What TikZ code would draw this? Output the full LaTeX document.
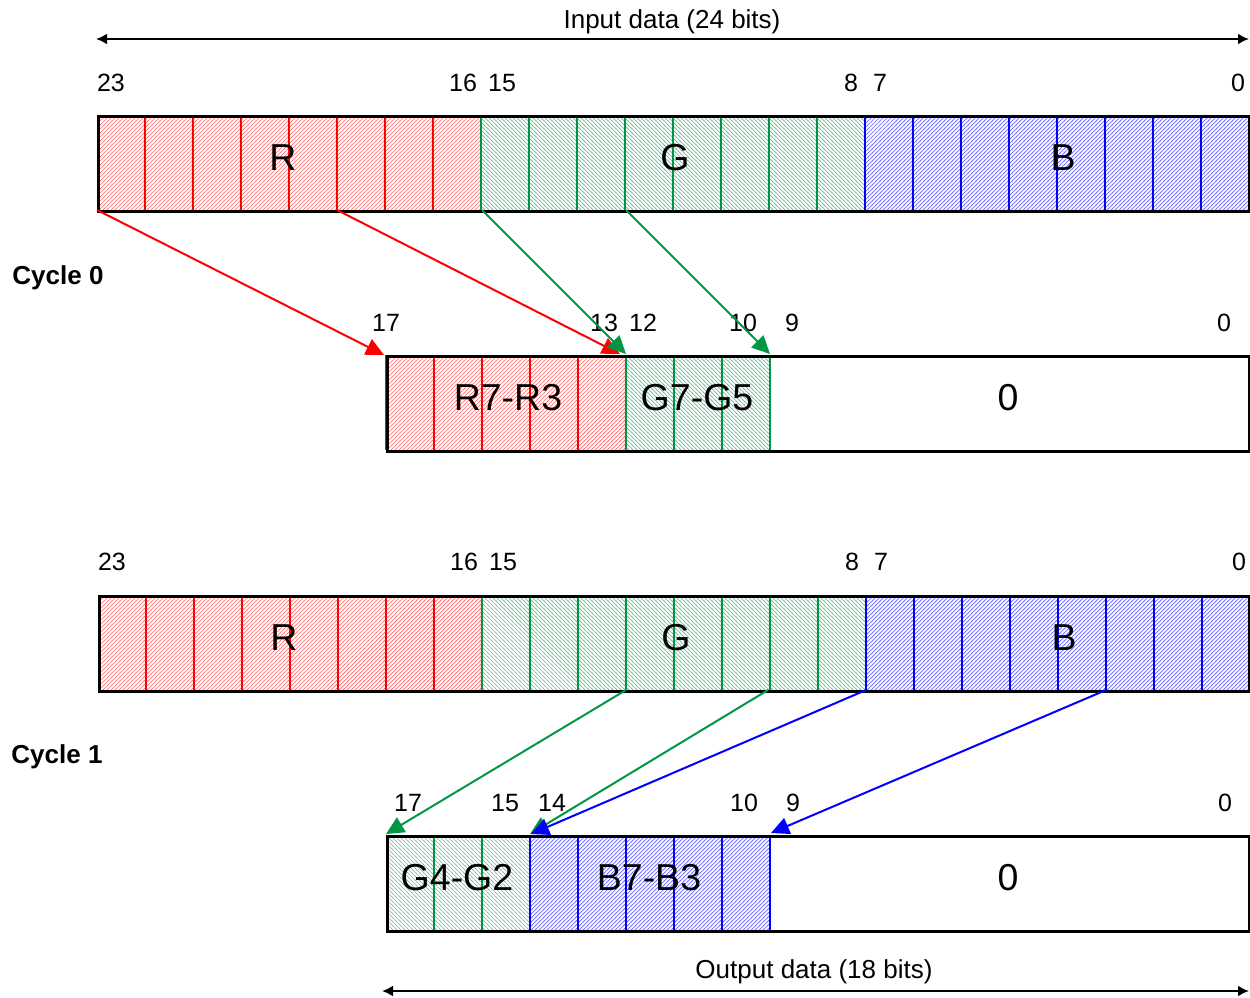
\documentclass[tikz,border=0pt]{standalone}
\usepackage{fontspec}
\setmainfont{Liberation Sans}
\usetikzlibrary{patterns,arrows.meta}
\definecolor{gr}{RGB}{0,150,70}
\definecolor{rd}{RGB}{255,0,0}
\definecolor{bl}{RGB}{0,0,255}
\pgfdeclarepatternformonly{hatchne}{\pgfqpoint{-1pt}{-1pt}}{\pgfqpoint{5pt}{5pt}}{\pgfqpoint{4pt}{4pt}}{%
  \pgfsetlinewidth{0.7pt}%
  \pgfpathmoveto{\pgfqpoint{-1pt}{-1pt}}%
  \pgfpathlineto{\pgfqpoint{5pt}{5pt}}%
  \pgfusepath{stroke}}
\pgfdeclarepatternformonly{hatchnw}{\pgfqpoint{-1pt}{-1pt}}{\pgfqpoint{5pt}{5pt}}{\pgfqpoint{4pt}{4pt}}{%
  \pgfsetlinewidth{0.7pt}%
  \pgfpathmoveto{\pgfqpoint{-1pt}{5pt}}%
  \pgfpathlineto{\pgfqpoint{5pt}{-1pt}}%
  \pgfusepath{stroke}}
\tikzset{
  hatchR/.style={pattern=hatchne,pattern color=rd!55},
  hatchG/.style={pattern=hatchnw,pattern color=gr!55},
  hatchB/.style={pattern=hatchne,pattern color=bl!55},
  reg/.style={draw=black,line width=2.6pt,minimum height=95pt,inner sep=0pt,anchor=north west},
  divR/.style={rd,line width=1.6pt},
  divG/.style={gr,line width=1.6pt},
  divB/.style={bl,line width=1.6pt},
  num/.style={font=\fontsize{25}{29}\selectfont,inner sep=0pt},
  big/.style={font=\fontsize{37.5}{42}\selectfont,inner sep=0pt},
  cyc/.style={font=\fontsize{26}{30}\selectfont\bfseries,inner sep=0pt},
  ttl/.style={font=\fontsize{26}{30}\selectfont,inner sep=0pt},
  mapR/.style={rd,line width=2pt,-{Triangle[length=18pt,width=17pt]}},
  mapG/.style={gr,line width=2pt,-{Triangle[length=18pt,width=17pt]}},
  mapB/.style={bl,line width=2pt,-{Triangle[length=18pt,width=17pt]}},
  span/.style={black,line width=2.8pt,{Latex[length=11pt,width=11pt]}-{Latex[length=11pt,width=11pt]}}
}
\begin{document}
\begin{tikzpicture}[x=1pt,y=-1pt]
\useasboundingbox (0,0) rectangle (1250,997);
% ---------- Input data span ----------
\node[ttl] (intitle) at (672,22) {Input data (24 bits)};
\coordinate (inL) at (96,39);
\coordinate (inR) at (1249,39);
\draw[span] (inL) -- (inR);

% ---------- Cycle 0 input register ----------
\fill[hatchR] (97,115) rectangle (481,210);
\fill[hatchG] (481,115) rectangle (865,210);
\fill[hatchB] (865,115) rectangle (1248,210);
\foreach \i in {1,...,7} \draw[divR] (97+48*\i,115) -- ++(0,95);
\foreach \i in {8,...,15} \draw[divG] (97+48*\i,115) -- ++(0,95);
\foreach \i in {16,...,23} \draw[divB] (97+48*\i,115) -- ++(0,95);
\node[reg,minimum width=1151pt] (in0) at (97,115) {};
\node[big] (lR0) at (283,158) {R};
\node[big] (lG0) at (675,158) {G};
\node[big] (lB0) at (1063,158) {B};
\node[num] (n0a) at (111,83) {23};
\node[num] (n0b) at (463,83) {16};
\node[num] (n0c) at (502,83) {15};
\node[num] (n0d) at (851,83) {8};
\node[num] (n0e) at (880,83) {7};
\node[num] (n0f) at (1238,83) {0};

\node[cyc] (cyc0) at (58,278) {Cycle 0};

% ---------- Cycle 0 output register ----------
\fill[hatchR] (386,355) rectangle (626,450);
\fill[hatchG] (626,355) rectangle (770,450);
\foreach \i in {1,...,4} \draw[divR] (386+48*\i,355) -- ++(0,95);
\draw[divR] (386,355) -- ++(0,95);
\foreach \i in {5,...,8} \draw[divG] (386+48*\i,355) -- ++(0,95);
\node[reg,minimum width=862pt] (out0) at (386,355) {};
\node[big] (lo0a) at (508,398) {R7-R3};
\node[big] (lo0b) at (697,398) {G7-G5};
\node[big] (lo0c) at (1008,398) {0};
\node[num] (m0a) at (386,323) {17};
\node[num] (m0b) at (604,323) {13};
\node[num] (m0c) at (643,323) {12};
\node[num] (m0d) at (743,323) {10};
\node[num] (m0e) at (792,323) {9};
\node[num] (m0f) at (1224,323) {0};

% ---------- Cycle 0 mapping arrows ----------
\coordinate (s0a) at (97,210);
\coordinate (s0b) at (337,210);
\coordinate (s0c) at (482,210);
\coordinate (s0d) at (626,210);
\coordinate (t0a) at (384,355);
\coordinate (t0b) at (620,354);
\coordinate (t0c) at (626,354);
\coordinate (t0d) at (770,354);
\draw[mapR] (s0a) -- (t0a);
\draw[mapR] (s0b) -- (t0b);
\draw[mapG] (s0c) -- (t0c);
\draw[mapG] (s0d) -- (t0d);

% ---------- Cycle 1 input register ----------
\fill[hatchR] (98,595) rectangle (482,690);
\fill[hatchG] (482,595) rectangle (866,690);
\fill[hatchB] (866,595) rectangle (1248,690);
\foreach \i in {1,...,7} \draw[divR] (98+48*\i,595) -- ++(0,95);
\foreach \i in {8,...,15} \draw[divG] (98+48*\i,595) -- ++(0,95);
\foreach \i in {16,...,23} \draw[divB] (98+48*\i,595) -- ++(0,95);
\node[reg,minimum width=1150pt] (in1) at (98,595) {};
\node[big] (lR1) at (284,638) {R};
\node[big] (lG1) at (676,638) {G};
\node[big] (lB1) at (1064,638) {B};
\node[num] (n1a) at (112,562) {23};
\node[num] (n1b) at (464,562) {16};
\node[num] (n1c) at (503,562) {15};
\node[num] (n1d) at (852,562) {8};
\node[num] (n1e) at (881,562) {7};
\node[num] (n1f) at (1239,562) {0};

\node[cyc] (cyc1) at (57,757) {Cycle 1};

% ---------- Cycle 1 output register ----------
\fill[hatchG] (386,835) rectangle (530,930);
\fill[hatchB] (530,835) rectangle (770,930);
\foreach \i in {1,...,2} \draw[divG] (386+48*\i,835) -- ++(0,95);
\foreach \i in {3,...,8} \draw[divB] (386+48*\i,835) -- ++(0,95);
\node[reg,minimum width=862pt] (out1) at (386,835) {};
\node[big] (lo1a) at (457,878) {G4-G2};
\node[big] (lo1b) at (649,878) {B7-B3};
\node[big] (lo1c) at (1008,878) {0};
\node[num] (m1a) at (408,803) {17};
\node[num] (m1b) at (505,803) {15};
\node[num] (m1c) at (552,803) {14};
\node[num] (m1d) at (744,803) {10};
\node[num] (m1e) at (793,803) {9};
\node[num] (m1f) at (1225,803) {0};

% ---------- Cycle 1 mapping arrows ----------
\coordinate (s1a) at (626,690);
\coordinate (s1b) at (768,690);
\coordinate (s1c) at (866,690);
\coordinate (s1d) at (1106,690);
\coordinate (t1a) at (386,834);
\coordinate (t1b) at (530,834);
\coordinate (t1c) at (531,834);
\coordinate (t1d) at (771,833);
\draw[mapG] (s1a) -- (t1a);
\draw[mapG] (s1b) -- (t1b);
\draw[mapB] (s1c) -- (t1c);
\draw[mapB] (s1d) -- (t1d);

% ---------- Output data span ----------
\node[ttl] (outtitle) at (814,972) {Output data (18 bits)};
\coordinate (outL) at (382,991);
\coordinate (outR) at (1249,991);
\draw[span] (outL) -- (outR);
\end{tikzpicture}
\end{document}
